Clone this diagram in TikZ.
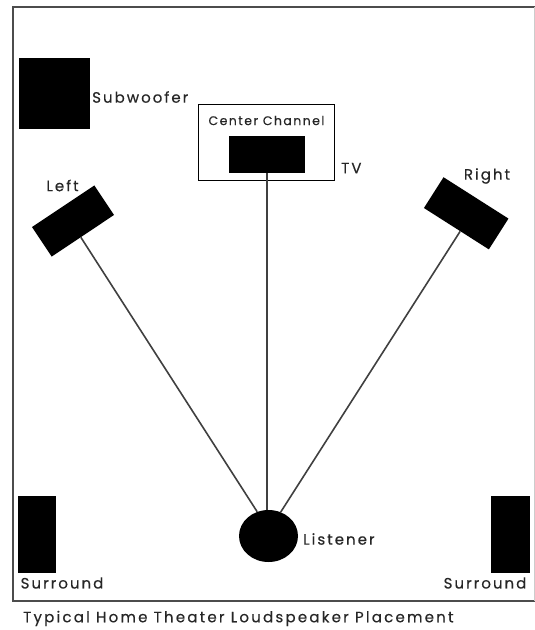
\documentclass[tikz,border=0pt]{standalone}
\usepackage{fontspec}
\usetikzlibrary{shapes.geometric}
\newfontfamily\labfont[LetterSpace=13.5,FakeBold=0.3]{Poppins}
\newfontfamily\capfont[LetterSpace=14.8,FakeBold=0.3]{Poppins}
\newfontfamily\smallfont[LetterSpace=11.5,FakeBold=0.3]{Poppins}
\begin{document}
\begin{tikzpicture}[x=1pt,y=-1pt,
 blk/.style={fill=black,draw=none,inner sep=0pt},
 wire/.style={draw=black!75,line width=1.6pt},
 frameln/.style={draw=black!70,line width=1.2pt},
 lab/.style={font=\labfont\fontsize{15}{17}\selectfont,inner sep=0pt,text=black!85}]
\useasboundingbox (0,0) rectangle (535,630);
\fill[white] (0,0) rectangle (535,630);
\draw[frameln] (535,7) -- (13,7) -- (13,601) -- (535,601);
\draw[draw=black!20,line width=0.8pt] (534,7) -- (534,601);
\node[blk,minimum width=71,minimum height=71] (sub) at (54,93.5) {};
\node[lab,anchor=west] (subl) at (92,97) {Subwoofer};
\node[draw=black,line width=0.9pt,fill=white,minimum width=136,minimum height=76,inner sep=0pt] (tv) at (266.5,142.5) {};
\node[lab,font=\smallfont\fontsize{12.5}{14}\selectfont] (ccl) at (266.5,120.5) {Center Channel};
\node[blk,minimum width=76,minimum height=37] (cc) at (267,154.5) {};
\node[lab,anchor=west] (tvl) at (341,168) {TV};
\node[blk,minimum width=75,minimum height=35.5,rotate=33.7] (l) at (73,221) {};
\node[lab] (ll) at (62.5,185.5) {Left};
\node[blk,minimum width=77,minimum height=36.5,rotate=-32.5] (r) at (466.2,213.3) {};
\node[lab] (rl) at (487,176) {Right};
\node[blk,ellipse,minimum width=59,minimum height=52] (me) at (268.5,536) {};
\node[lab,anchor=west] (mel) at (303,539) {Listener};
\node[blk,minimum width=38,minimum height=77] (sl) at (36.5,534.5) {};
\node[blk,minimum width=39,minimum height=77] (sr) at (510,534.5) {};
\node[lab] (sll) at (62,583) {Surround};
\node[lab] (srl) at (485,583) {Surround};
\node[lab,font=\capfont\fontsize{15}{17}\selectfont,anchor=west] (cap) at (23,618.5) {Typical Home Theater Loudspeaker Placement};
\draw[wire] (l.-98) -- (me.115);
\draw[wire] (r.-76) -- (me.63);
\draw[wire] (cc.south) -- (cc.south |- me.north);
\end{tikzpicture}
\end{document}
